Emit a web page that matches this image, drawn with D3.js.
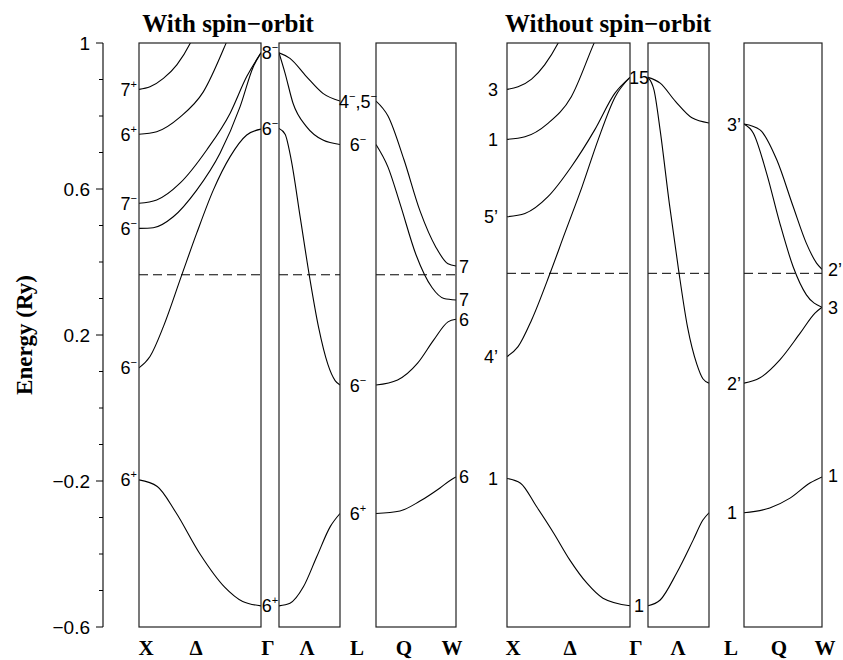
<!DOCTYPE html>
<html><head><meta charset="utf-8">
<script src="https://cdn.jsdelivr.net/npm/d3@7"></script>
<style>body{margin:0;background:#fff}</style>
</head><body>
<svg id="c" width="843" height="660"></svg>
<script>
// ---------------- DATA ----------------
// each band: list of [k (fraction along segment), Energy (Ry)]
// With spin-orbit
const soXG = [
  [[0,0.873],[0.09,0.880],[0.2,0.903],[0.31,0.940],[0.42,0.999],[0.5,1.06]],
  [[0,0.750],[0.145,0.757],[0.336,0.797],[0.527,0.866],[0.713,0.999],[0.8,1.07]],
  [[0,0.561],[0.145,0.570],[0.336,0.616],[0.555,0.707],[0.746,0.807],[0.883,0.908],[1,0.973]],
  [[0,0.492],[0.117,0.494],[0.281,0.524],[0.473,0.597],[0.664,0.698],[0.828,0.825],[0.937,0.935],[1,0.973]],
  [[0,0.110],[0.09,0.141],[0.2,0.223],[0.35,0.364],[0.473,0.479],[0.609,0.597],[0.746,0.688],[0.883,0.748],[1,0.764]],
  [[0,-0.197],[0.15,-0.215],[0.3,-0.285],[0.5,-0.400],[0.7,-0.490],[0.85,-0.530],[1,-0.542]]
];
const soGL = [
  [[0,0.973],[0.18,0.958],[0.45,0.908],[0.72,0.862],[1,0.841]],
  [[0,0.973],[0.1,0.917],[0.23,0.835],[0.45,0.771],[0.72,0.734],[1,0.722]],
  [[0,0.766],[0.1,0.750],[0.2,0.680],[0.35,0.520],[0.5,0.360],[0.65,0.220],[0.8,0.120],[0.92,0.075],[1,0.063]],
  [[0,-0.542],[0.18,-0.535],[0.4,-0.490],[0.62,-0.407],[0.84,-0.325],[1,-0.289]]
];
const soLW = [
  [[0,0.841],[0.15,0.80],[0.35,0.68],[0.55,0.54],[0.75,0.44],[0.9,0.395],[1,0.389]],
  [[0,0.722],[0.15,0.66],[0.3,0.56],[0.5,0.42],[0.7,0.33],[0.85,0.30],[1,0.296]],
  [[0,0.063],[0.27,0.077],[0.52,0.123],[0.72,0.186],[0.9,0.236],[1,0.243]],
  [[0,-0.289],[0.3,-0.282],[0.55,-0.255],[0.8,-0.219],[0.95,-0.195],[1,-0.189]]
];
// Without spin-orbit
const nsXG = [
  [[0,0.873],[0.09,0.880],[0.2,0.901],[0.306,0.940],[0.415,0.999],[0.5,1.06]],
  [[0,0.736],[0.146,0.743],[0.333,0.780],[0.523,0.853],[0.707,0.999],[0.8,1.07]],
  [[0,0.524],[0.146,0.533],[0.333,0.579],[0.523,0.661],[0.713,0.762],[0.876,0.862],[1,0.906]],
  [[0,0.141],[0.09,0.168],[0.2,0.241],[0.35,0.369],[0.47,0.479],[0.61,0.606],[0.74,0.734],[0.88,0.853],[1,0.906]],
  [[0,-0.193],[0.11,-0.206],[0.24,-0.270],[0.38,-0.343],[0.51,-0.416],[0.65,-0.480],[0.78,-0.521],[1,-0.542]]
];
const nsGL = [
  [[0,0.906],[0.2,0.890],[0.45,0.840],[0.72,0.795],[1,0.781]],
  [[0,0.906],[0.1,0.870],[0.2,0.760],[0.35,0.560],[0.5,0.380],[0.65,0.220],[0.8,0.120],[0.9,0.080],[1,0.068]],
  [[0,-0.542],[0.2,-0.526],[0.47,-0.452],[0.74,-0.362],[0.9,-0.307],[1,-0.287]]
];
const nsLW = [
  [[0,0.778],[0.205,0.762],[0.42,0.680],[0.63,0.552],[0.80,0.451],[0.93,0.397],[1,0.380]],
  [[0,0.778],[0.12,0.753],[0.29,0.643],[0.46,0.506],[0.63,0.387],[0.80,0.310],[1,0.276]],
  [[0,0.068],[0.2,0.082],[0.46,0.132],[0.72,0.205],[0.91,0.260],[1,0.276]],
  [[0,-0.287],[0.33,-0.274],[0.59,-0.247],[0.85,-0.205],[1,-0.189]]
];
const fermiSO = 0.365, fermiNS = 0.369;

// point labels: [main, superscript, energy]
const soLabX = [["7","+",0.873],["6","+",0.750],["7","−",0.561],["6","−",0.492],["6","−",0.110],["6","+",-0.197]];
const soLabG = [["8","−",0.973],["6","−",0.766],["6","+",-0.542]];
const soLabL = [["4","−,5",0.841,"−"],["6","−",0.722],["6","−",0.063],["6","+",-0.289]];
const soLabW = [["7","",0.389],["7","",0.296],["6","",0.243],["6","",-0.189]];
const nsLabX = [["3","",0.873],["1","",0.736],["5’","",0.524],["4’","",0.141],["1","",-0.193]];
const nsLabG = [["15","",0.906],["1","",-0.542]];
const nsLabL = [["3’","",0.778],["2’","",0.068],["1","",-0.287]];
const nsLabW = [["2’","",0.380],["3","",0.276],["1","",-0.184]];

const kLabels = ["X","Δ","Γ","Λ","L","Q","W"];
const yTicksMajor = [1,0.6,0.2,-0.2,-0.6];
const titles = ["With spin−orbit","Without spin−orbit"];

// ---------------- LAYOUT ----------------
const svg = d3.select("#c");
const y = d3.scaleLinear().domain([-0.6,1]).range([627,43]);
const groups = [
  {boxes:[[139,261],[279,340],[376,456]], bands:[soXG,soGL,soLW], fermi:fermiSO,
   labs:{X:soLabX,G:soLabG,L:soLabL,W:soLabW}, title:titles[0], tx:228,
   kx:[146,196,268,307,357,404,452], Lanchor:"middle", Lx:358, Xx:137, Gx:270, Wx:459},
  {boxes:[[507,630],[648,709],[744,822]], bands:[nsXG,nsGL,nsLW], fermi:fermiNS,
   labs:{X:nsLabX,G:nsLabG,L:nsLabL,W:nsLabW}, title:titles[1], tx:608,
   kx:[513,570,636,678,731,779,825], Lanchor:"start", Lx:727, Xx:498, Gx:639, Wx:828}
];
const sans = "'Liberation Sans', Arial, Helvetica, sans-serif";
const serif = "'Liberation Serif', 'Times New Roman', serif";
const line = d3.line().curve(d3.curveMonotoneX);
const defs = svg.append("defs");

groups.forEach((g,gi)=>{
  g.boxes.forEach((b,bi)=>{
    const id = `clip${gi}${bi}`;
    defs.append("clipPath").attr("id",id).append("rect")
      .attr("x",b[0]).attr("y",y(1)).attr("width",b[1]-b[0]).attr("height",y(-0.6)-y(1));
    const x = d3.scaleLinear().domain([0,1]).range(b);
    const gg = svg.append("g").attr("clip-path",`url(#${id})`);
    g.bands[bi].forEach(band=>{
      gg.append("path").attr("d",line(band.map(p=>[x(p[0]),y(p[1])])))
        .attr("fill","none").attr("stroke","#000").attr("stroke-width",1.1);
    });
    svg.append("line").attr("x1",b[0]).attr("x2",b[1]).attr("y1",y(g.fermi)).attr("y2",y(g.fermi))
      .attr("stroke","#000").attr("stroke-width",1).attr("stroke-dasharray","9,5");
    svg.append("rect").attr("x",b[0]).attr("y",y(1)).attr("width",b[1]-b[0]).attr("height",y(-0.6)-y(1))
      .attr("fill","none").attr("stroke","#222").attr("stroke-width",1.2);
  });
  // title
  svg.append("text").attr("x",g.tx).attr("y",32).attr("text-anchor","middle")
    .attr("font-family",serif).attr("font-weight","bold").attr("font-size",25).text(g.title);
  // k labels
  kLabels.forEach((t,i)=>{
    svg.append("text").attr("x",g.kx[i]).attr("y",655).attr("text-anchor","middle")
      .attr("font-family",serif).attr("font-weight","bold").attr("font-size",21).text(t);
  });
  // point labels
  const addLab = (arr,xpos,anchor)=>{
    arr.forEach(l=>{
      const t = svg.append("text").attr("x",xpos).attr("y",y(l[2])+6.5).attr("text-anchor",anchor)
        .attr("font-family",sans).attr("font-size",18);
      t.append("tspan").text(l[0]);
      if(l[1]){
        if(l.length>3){
          t.append("tspan").attr("font-size",11).attr("dy",-8).text("−");
          t.append("tspan").attr("dy",8).text(",5");
          t.append("tspan").attr("font-size",11).attr("dy",-8).text(l[3]);
        } else {
          t.append("tspan").attr("font-size",11).attr("dy",-8).text(l[1]);
        }
      }
    });
  };
  addLab(g.labs.X,g.Xx,"end");
  addLab(g.labs.G,g.Gx,"middle");
  addLab(g.labs.L,g.Lx,g.Lanchor);
  addLab(g.labs.W,g.Wx,"start");
});

// y axis
const ax = svg.append("g");
ax.append("line").attr("x1",103).attr("x2",103).attr("y1",y(1)).attr("y2",y(-0.6)).attr("stroke","#000").attr("stroke-width",1.1);
d3.range(-6,11).map(v=>v/10).forEach(v=>{
  const major = yTicksMajor.some(m=>Math.abs(m-v)<1e-9);
  ax.append("line").attr("x1",major?96:99).attr("x2",103).attr("y1",y(v)).attr("y2",y(v))
    .attr("stroke","#000").attr("stroke-width",1);
});
yTicksMajor.forEach(v=>{
  ax.append("text").attr("x",90).attr("y",y(v)+7).attr("text-anchor","end")
    .attr("font-family",sans).attr("font-size",19).text(v===1?"1":d3.format(".1f")(v).replace("-","−"));
});
svg.append("text").attr("transform","translate(32,335) rotate(-90)").attr("text-anchor","middle")
  .attr("font-family",serif).attr("font-weight","bold").attr("font-size",23).text("Energy (Ry)");
</script>
</body></html>
